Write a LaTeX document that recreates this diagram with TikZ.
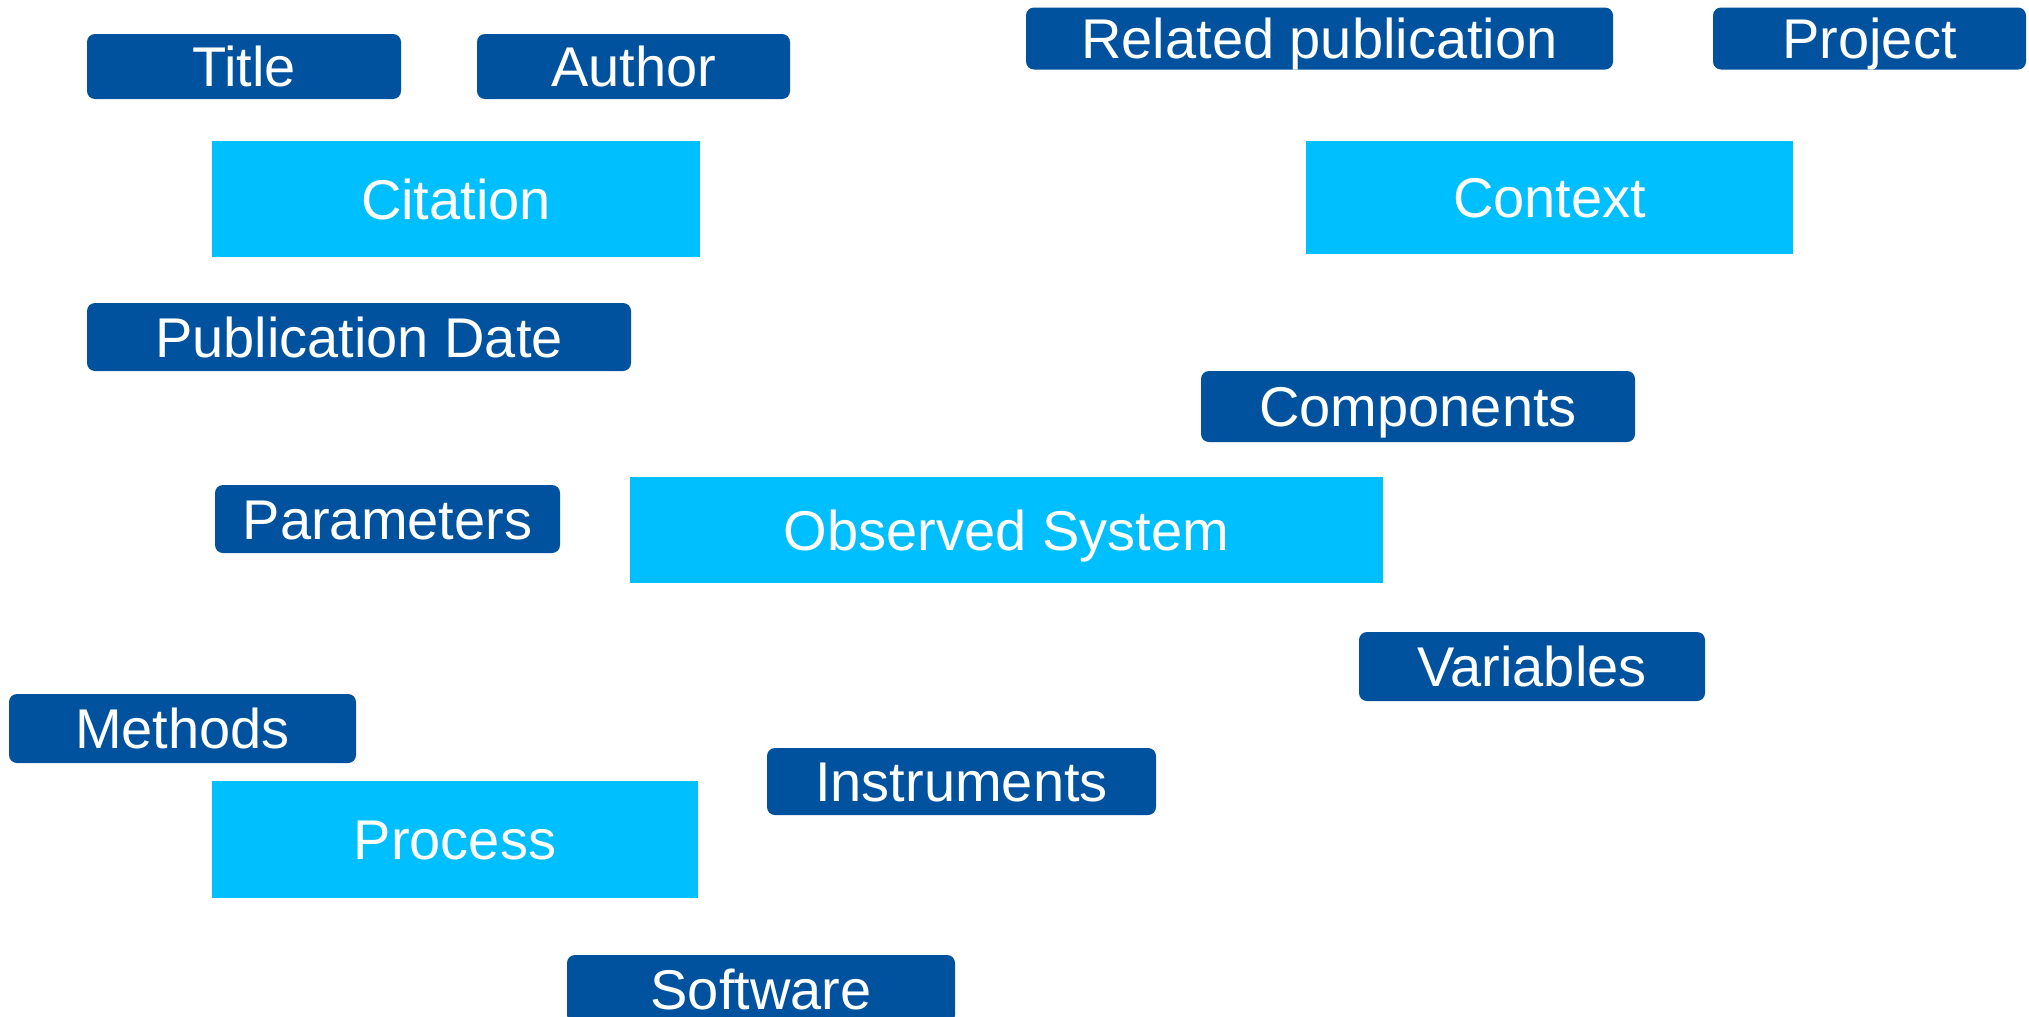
\documentclass[tikz,border=0pt]{standalone}
\usepackage{fontspec}
\setmainfont{Liberation Sans}
\definecolor{darkbox}{RGB}{0,82,158}
\definecolor{lightbox}{RGB}{0,191,255}
\tikzset{
  basebox/.style={text=white, inner sep=0pt, text height=20pt, text depth=0pt,
    font=\fontsize{28}{34}\selectfont, align=center},
  dbox/.style={basebox, fill=darkbox, rounded corners=4pt},
  lbox/.style={basebox, fill=lightbox},
}
\begin{document}
\begin{tikzpicture}[x=0.5pt,y=-0.5pt]
\useasboundingbox (0,0) rectangle (2029,1017);
\clip (0,0) rectangle (2029,1017);
\fill[white] (0,0) rectangle (2029,1017);
% dark boxes
\node[dbox, minimum width=157pt, minimum height=32.5pt] (title) at (244,66.5) {Title};
\node[dbox, minimum width=156.5pt, minimum height=32.5pt] (author) at (633.5,66.5) {Author};
\node[dbox, minimum width=293.5pt, minimum height=31pt] (relpub) at (1319.5,38.5) {Related publication};
\node[dbox, minimum width=156.5pt, minimum height=31pt] (project) at (1869.5,38.5) {Project};
\node[dbox, minimum width=272pt, minimum height=34pt] (pubdate) at (359,337) {Publication Date};
\node[dbox, minimum width=217pt, minimum height=35.5pt] (components) at (1418,406.5) {Components};
\node[dbox, minimum width=172.5pt, minimum height=34pt] (parameters) at (387.5,519) {Parameters};
\node[dbox, minimum width=173pt, minimum height=34.5pt] (variables) at (1532,666.5) {Variables};
\node[dbox, minimum width=173.5pt, minimum height=34.5pt] (methods) at (182.5,728.5) {Methods};
\node[dbox, minimum width=194.5pt, minimum height=33.5pt] (instruments) at (961.5,781.5) {Instruments};
\node[dbox, minimum width=194pt, minimum height=34pt] (software) at (761,989) {Software};
% light boxes
\node[lbox, minimum width=244pt, minimum height=58pt] (citation) at (456,199) {Citation};
\node[lbox, minimum width=243.5pt, minimum height=56.5pt] (context) at (1549.5,197.5) {Context};
\node[lbox, minimum width=376.5pt, minimum height=53.25pt] (observed) at (1006.5,530) {Observed System};
\node[lbox, minimum width=243pt, minimum height=58.5pt] (process) at (455,839.5) {Process};
\end{tikzpicture}
\end{document}
